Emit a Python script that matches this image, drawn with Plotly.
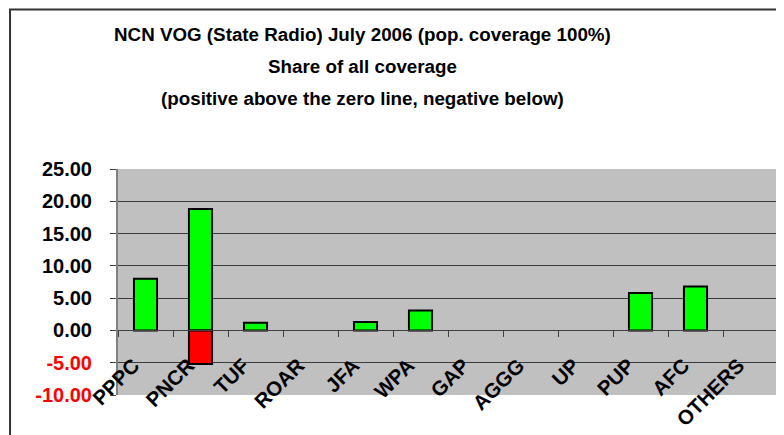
import plotly.graph_objects as go

# data
categories = ["PPPC", "PNCR", "TUF", "ROAR", "JFA", "WPA", "GAP", "AGGG", "UP", "PUP", "AFC", "OTHERS"]
positive = [8.0, 18.8, 1.2, None, 1.3, 3.1, None, None, None, 5.8, 6.8, None]
negative = [None, -5.2, None, None, None, None, None, None, None, None, None, None]
y_ticks = [25, 20, 15, 10, 5, 0, -5, -10]
title_lines = [
    "NCN VOG (State Radio) July 2006 (pop. coverage 100%)",
    "Share of all coverage",
    "(positive above the zero line, negative below)",
]

# red labels for negative values
y_ticktext = [
    f'<span style="color:#ff0000">{v:.2f}</span>' if v < 0 else f"{v:.2f}"
    for v in y_ticks
]
# trailing no-break spaces push the rotated labels down-left like Excel does
x_ticktext = [c + "\u00a0" * 3 for c in categories]

fig = go.Figure()
fig.add_trace(go.Bar(x=categories, y=positive, width=0.42,
                     marker=dict(color="#00ff00", line=dict(color="black", width=2))))
fig.add_trace(go.Bar(x=categories, y=negative, width=0.42,
                     marker=dict(color="#ff0000", line=dict(color="black", width=2))))

font_family = "Liberation Sans, Arial, sans-serif"

fig.update_layout(
    width=784, height=435,
    margin=dict(l=110, r=14, t=161, b=48),
    barmode="relative",
    showlegend=False,
    paper_bgcolor="white",
    plot_bgcolor="#c0c0c0",
    font=dict(family=font_family, color="black"),
    xaxis=dict(
        type="category",
        anchor="free", position=10 / 35,
        tickvals=categories, ticktext=x_ticktext,
        tickson="boundaries", ticks="outside", ticklen=6, tickcolor="#404040",
        showline=True, linecolor="#404040", linewidth=1,
        showgrid=False, tickangle=-45, ticklabelstandoff=2,
        tickfont=dict(size=20.5, weight="bold", color="black"),
        automargin=False,
    ),
    yaxis=dict(
        range=[-10, 25],
        tickvals=y_ticks, ticktext=y_ticktext,
        ticks="outside", ticklen=6, tickcolor="#404040",
        showline=True, mirror=True, linecolor="#808080", linewidth=2,
        showgrid=True, gridcolor="#3a3a3a", gridwidth=1,
        zeroline=False, ticklabelstandoff=14,
        tickfont=dict(size=20, weight="bold", color="black"),
        automargin=False,
    ),
)

# three title lines, spaced like the original
for i, line in enumerate(title_lines):
    fig.add_annotation(text=line, xref="paper", yref="paper",
                       x=0.37, y=1.593 - i * 0.14, xanchor="center", yanchor="middle",
                       showarrow=False,
                       font=dict(size=18.8, weight="bold", color="black", family=font_family))

# outer chart frame
fig.add_shape(type="rect", xref="paper", yref="paper",
              x0=-0.1636, y0=-1, x1=1.5, y1=1.706,
              line=dict(color="#333333", width=2), layer="below")

fig.write_html("out.html")
